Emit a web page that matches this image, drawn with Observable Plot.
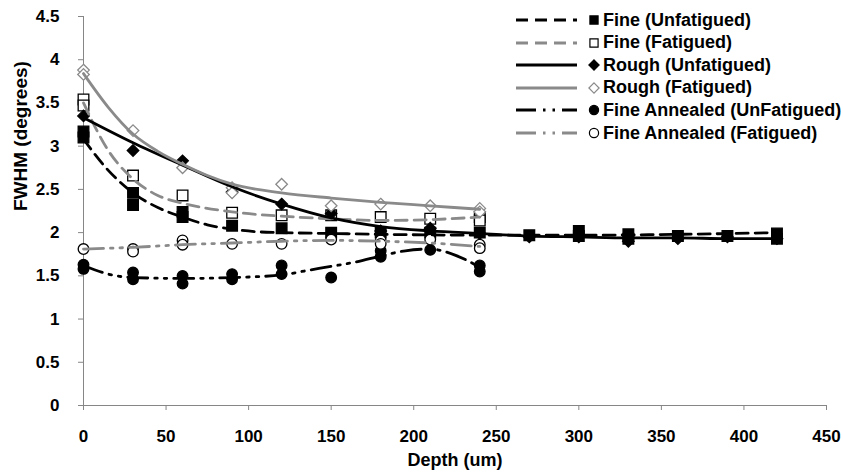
<!DOCTYPE html>
<html><head><meta charset="utf-8">
<script src="https://cdn.jsdelivr.net/npm/d3@7"></script>
<script src="https://cdn.jsdelivr.net/npm/@observablehq/plot@0.6"></script>
<style>
body{margin:0;background:#fff;}
#wrap{position:relative;width:843px;height:473px;font-family:"Liberation Sans",Arial,sans-serif;}
#legend{position:absolute;left:0;top:0;}
.row{position:absolute;display:flex;align-items:center;height:22px;white-space:nowrap;font-weight:bold;font-size:18px;color:#000;}
.row svg{display:block;}
</style></head><body><div id="wrap"></div>
<script>
// ---- data ----
const seriesNames = ["Fine (Unfatigued)", "Fine (Fatigued)", "Rough (Unfatigued)", "Rough (Fatigued)", "Fine Annealed (UnFatigued)", "Fine Annealed (Fatigued)"];
const xTicks = [0, 50, 100, 150, 200, 250, 300, 350, 400, 450];
const yTicks = [0, 0.5, 1, 1.5, 2, 2.5, 3, 3.5, 4, 4.5];

// measured points [depth, FWHM]
const fineUnfatPts = [[0,3.17],[0,3.10],[30,2.46],[30,2.32],[60,2.24],[60,2.18],[90,2.08],[120,2.05],[150,2.0],[180,2.0],[210,2.0],[240,2.0],[270,1.97],[300,2.02],[300,1.96],[330,1.98],[330,1.93],[360,1.96],[390,1.96],[420,1.99],[420,1.93]];
const fineFatPts = [[0,3.54],[0,3.47],[30,2.66],[60,2.43],[90,2.23],[120,2.2],[150,2.2],[180,2.18],[210,2.16],[240,2.18],[240,2.14]];
const roughUnfatPts = [[0,3.35],[30,2.95],[60,2.83],[90,2.47],[120,2.33],[150,2.22],[180,2.02],[210,2.05],[240,1.99],[270,1.95],[300,1.95],[330,1.9],[360,1.93],[390,1.95],[420,1.93]];
const roughFatPts = [[0,3.88],[0,3.83],[30,3.18],[60,2.75],[90,2.52],[90,2.46],[120,2.56],[150,2.31],[180,2.33],[210,2.31],[240,2.28],[240,2.24]];
const annUnfatPts = [[0,1.63],[0,1.58],[30,1.54],[30,1.46],[60,1.50],[60,1.41],[90,1.52],[90,1.46],[120,1.62],[120,1.52],[150,1.48],[180,1.79],[180,1.72],[210,1.80],[240,1.62],[240,1.55]];
const annFatPts = [[0,1.81],[30,1.81],[30,1.78],[60,1.91],[60,1.86],[90,1.87],[120,1.87],[150,1.92],[180,1.91],[180,1.87],[210,1.92],[240,1.86],[240,1.82]];

// trend lines
const fineUnfatTrendX = [0,15,30,45,60,75,90,105,120,150,180,240,300,360,420];
const fineUnfatTrendV = [3.08,2.72,2.46,2.29,2.18,2.09,2.04,2.01,2.0,1.99,1.98,1.97,1.97,1.98,2.0];
const fineFatTrendX = [0,15,30,45,60,90,120,150,180,210,240];
const fineFatTrendV = [3.5,2.95,2.62,2.43,2.34,2.24,2.19,2.16,2.14,2.15,2.18];
const roughUnfatTrendX = [0,30,60,90,120,150,180,210,240,270,300,330,360,390,420];
const roughUnfatTrendV = [3.33,3.04,2.78,2.53,2.33,2.17,2.07,2.02,1.99,1.96,1.95,1.94,1.94,1.93,1.93];
const roughFatTrendX = [0,15,30,45,60,75,90,120,150,180,210,240];
const roughFatTrendV = [3.84,3.45,3.14,2.94,2.79,2.66,2.56,2.46,2.40,2.35,2.31,2.27];
const annUnfatTrendX = [0,15,30,60,90,120,135,150,165,180,195,210,225,240];
const annUnfatTrendV = [1.62,1.52,1.48,1.47,1.48,1.51,1.56,1.61,1.66,1.73,1.79,1.81,1.74,1.60];
const annFatTrendX = [0,30,60,90,120,150,180,210,240];
const annFatTrendV = [1.81,1.83,1.86,1.88,1.90,1.91,1.90,1.88,1.84];

// ---- styles ----
const GRAY = "#8a8a8a";
const styles = [
  {color:"#000", dash:"12,7", symbol:"square", fill:"#000", mstroke:"#000", r:6},
  {color:GRAY, dash:"12,7", symbol:"square", fill:"#fff", mstroke:"#000", r:6},
  {color:"#000", dash:null, symbol:"diamond2", fill:"#000", mstroke:"#000", r:5.2},
  {color:GRAY, dash:null, symbol:"diamond2", fill:"#fff", mstroke:GRAY, r:5.2},
  {color:"#000", dash:"20,7,2.5,7,2.5,7", symbol:"circle", fill:"#000", mstroke:"#000", r:5.3},
  {color:GRAY, dash:"20,7,2.5,7,2.5,7", symbol:"circle", fill:"#fff", mstroke:"#000", r:5.3}
];
const pts = [fineUnfatPts, fineFatPts, roughUnfatPts, roughFatPts, annUnfatPts, annFatPts];
const trends = [[fineUnfatTrendX,fineUnfatTrendV],[fineFatTrendX,fineFatTrendV],[roughUnfatTrendX,roughUnfatTrendV],[roughFatTrendX,roughFatTrendV],[annUnfatTrendX,annUnfatTrendV],[annFatTrendX,annFatTrendV]];

const AX = "#868686";
const marks = [];
marks.push(Plot.ruleY([0], {stroke: AX, strokeWidth: 1}));
marks.push(Plot.ruleX([0], {stroke: AX, strokeWidth: 1}));
marks.push(Plot.axisX({ticks: xTicks, tickSize: 5, tickPadding: 19, stroke: AX, label: null, tickFormat: d3.format("~g")}));
marks.push(Plot.axisY({ticks: yTicks, tickSize: 5, tickPadding: 19, stroke: AX, label: null, tickFormat: d3.format("~g")}));
pts.forEach((p, i) => {
  const s = styles[i];
  marks.push(Plot.dot(p.map(([d, v]) => ({d, v})), {x: "d", y: "v", symbol: () => s.symbol, r: s.r, fill: s.fill, stroke: s.mstroke, strokeWidth: 1.3}));
});
trends.forEach(([xs, vs], i) => {
  const s = styles[i];
  marks.push(Plot.line(xs.map((d, j) => ({d, v: vs[j]})), {x: "d", y: "v", stroke: s.color, strokeWidth: 2.8, strokeDasharray: s.dash || undefined, curve: "monotone-x"}));
});
marks.push(Plot.text(["Depth (um)"], {frameAnchor: "bottom", dy: 60, text: d => d, fontSize: 18, fontWeight: "bold", fill: "#000"}));
marks.push(Plot.text(["FWHM (degrees)"], {frameAnchor: "left", dx: -63, rotate: -90, text: d => d, fontSize: 19, fontWeight: "bold", fill: "#000"}));

const chart = Plot.plot({
  width: 843, height: 473,
  marginLeft: 83, marginRight: 17, marginTop: 16, marginBottom: 68,
  x: {domain: [0, 450]},
  y: {domain: [0, 4.5]},
  symbol: {type: "identity"},
  style: {fontFamily: "'Liberation Sans', Arial, sans-serif", fontWeight: "bold", fontSize: "17px", color: "#000", background: "#fff"},
  marks
});
const wrap = document.getElementById("wrap");
wrap.appendChild(chart);

// ---- legend (HTML overlay) ----
const legend = document.createElement("div");
legend.id = "legend";
const ns = "http://www.w3.org/2000/svg";
seriesNames.forEach((name, i) => {
  const s = styles[i];
  const row = document.createElement("div");
  row.className = "row";
  row.style.left = "513px";
  row.style.top = (9 + i * 22.6) + "px";
  const svg = document.createElementNS(ns, "svg");
  svg.setAttribute("width", "90"); svg.setAttribute("height", "22");
  const ln = document.createElementNS(ns, "line");
  ln.setAttribute("x1", "3"); ln.setAttribute("x2", "64"); ln.setAttribute("y1", "11"); ln.setAttribute("y2", "11");
  ln.setAttribute("stroke", s.color); ln.setAttribute("stroke-width", "2.8");
  if (s.dash) ln.setAttribute("stroke-dasharray", s.dash);
  svg.appendChild(ln);
  const path = document.createElementNS(ns, "path");
  const sym = {square: d3.symbolSquare, diamond2: d3.symbolDiamond2 || d3.symbolDiamond, circle: d3.symbolCircle}[s.symbol];
  path.setAttribute("d", d3.symbol(sym, Math.PI * 4.6 * 4.6)());
  path.setAttribute("transform", "translate(81,11)");
  path.setAttribute("fill", s.fill); path.setAttribute("stroke", s.mstroke); path.setAttribute("stroke-width", "1.2");
  svg.appendChild(path);
  row.appendChild(svg);
  const t = document.createElement("span");
  t.textContent = name;
  row.appendChild(t);
  legend.appendChild(row);
});
wrap.appendChild(legend);
</script>
</body></html>
